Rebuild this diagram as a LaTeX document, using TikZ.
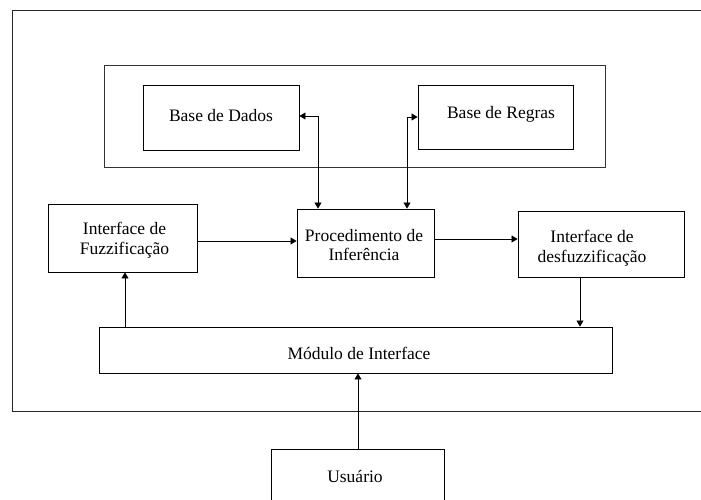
\documentclass[tikz,border=0pt]{standalone}
\usepackage{fontspec}
\setmainfont{Liberation Serif}
\usetikzlibrary{arrows.meta}
\begin{document}
\begin{tikzpicture}[x=1pt,y=-1pt,
  box/.style={draw, line width=0.9pt, inner sep=0pt},
  lbl/.style={font=\fontsize{17.5}{19.5}\selectfont, align=center, inner sep=0pt},
  arr/.style={-{Triangle[length=6pt,width=7pt]}, line width=0.8pt},
  dbl/.style={{Triangle[length=6pt,width=7pt]}-{Triangle[length=6pt,width=7pt]}, line width=0.8pt}]
\useasboundingbox (0,0) rectangle (701,499);
\clip (0,0) rectangle (701,499);
% frames
\node[box, draw=black!85, minimum width=708pt, minimum height=401pt] (outer) at (366,210.5) {};
\node[box, draw=black!80, minimum width=501pt, minimum height=102pt] (cont) at (354.5,116) {};
% boxes
\node[box, minimum width=156pt, minimum height=65pt] (dados) at (221,117.5) {};
\node[lbl] (dadost) at (221,116) {Base de Dados};
\node[box, minimum width=155pt, minimum height=64pt] (regras) at (495.5,117) {};
\node[lbl] (regrast) at (501,114) {Base de Regras};
\node[box, minimum width=149pt, minimum height=68pt] (fuzz) at (122.5,238) {};
\node[lbl] (fuzzt) at (124.5,240) {Interface de\\Fuzzificação};
\node[box, minimum width=137pt, minimum height=68pt] (proc) at (365.5,243) {};
\node[lbl] (proct) at (364,245) {Procedimento de\\Inferência};
\node[box, minimum width=166pt, minimum height=66pt] (desf) at (601,244) {};
\node[lbl] (desft) at (592,248) {Interface de\\desfuzzificação};
\node[box, minimum width=513pt, minimum height=46pt] (mod) at (355.5,350) {};
\node[lbl] (modt) at (359,353) {Módulo de Interface};
\node[box, minimum width=173pt, minimum height=71pt] (usu) at (357.5,484.5) {};
\node[lbl] (usut) at (355,476) {Usuário};
% helper coordinates
\coordinate (xD) at (318,0);
\coordinate (yD) at (0,116);
\coordinate (xR) at (407,0);
\coordinate (yR) at (0,117);
\coordinate (yFP) at (0,241);
\coordinate (yPD) at (0,239);
\coordinate (xDM) at (580,0);
\coordinate (xMF) at (125,0);
\coordinate (xUM) at (358,0);
% connectors
\draw[dbl] (dados.east |- yD) -- (xD |- yD) -- (proc.north -| xD);
\draw[dbl] (proc.north -| xR) -- (xR |- yR) -- (regras.west |- yR);
\draw[arr] (fuzz.east |- yFP) -- (proc.west |- yFP);
\draw[arr] (proc.east |- yPD) -- (desf.west |- yPD);
\draw[arr] (desf.south -| xDM) -- (mod.north -| xDM);
\draw[arr] (mod.north -| xMF) -- (fuzz.south -| xMF);
\draw[arr] (usu.north -| xUM) -- (mod.south -| xUM);
\end{tikzpicture}
\end{document}
